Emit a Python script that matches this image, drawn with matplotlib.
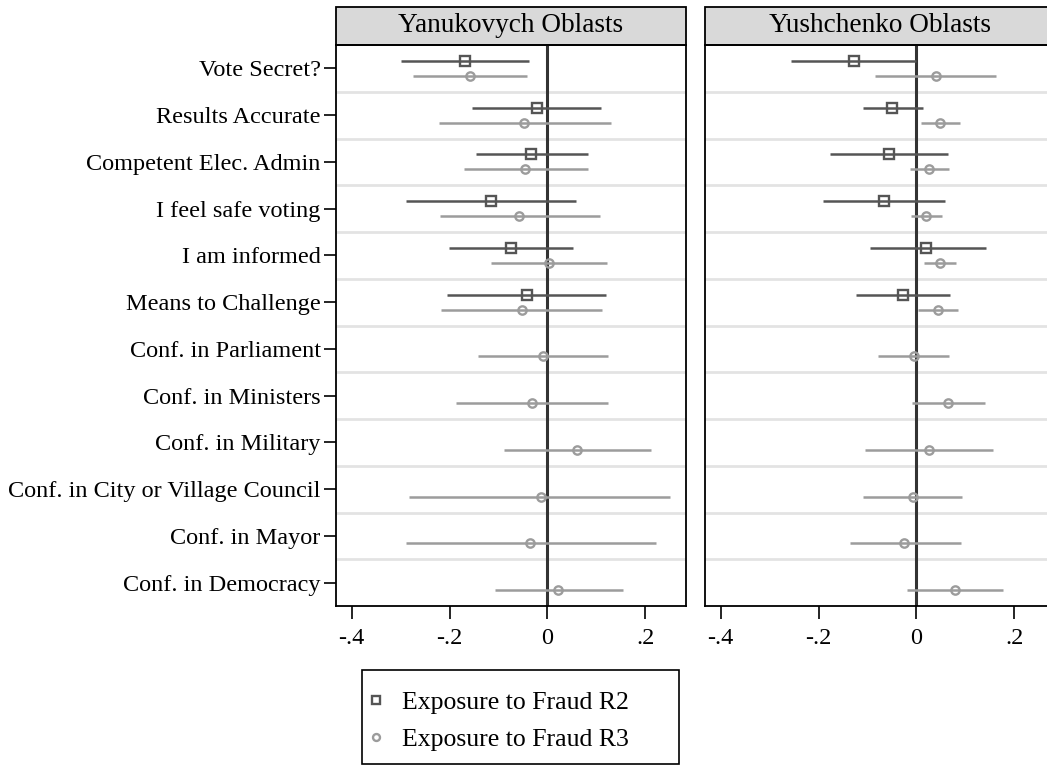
import numpy as np
import matplotlib
matplotlib.use("Agg")
import matplotlib.pyplot as plt
from matplotlib.patches import Rectangle
from matplotlib.lines import Line2D

plt.rcParams['font.family'] = ['Liberation Serif', 'DejaVu Serif']

labels = ["Vote Secret?", "Results Accurate", "Competent Elec. Admin",
          "I feel safe voting", "I am informed", "Means to Challenge",
          "Conf. in Parliament", "Conf. in Ministers", "Conf. in Military",
          "Conf. in City or Village Council", "Conf. in Mayor", "Conf. in Democracy"]
panels = ["Yanukovych Oblasts", "Yushchenko Oblasts"]
nan = np.nan

# Yanukovych oblasts: exposure to fraud R2 (only first 6 outcomes)
yan_r2_est = [-0.169, -0.022, -0.033, -0.116, -0.075, -0.042, nan, nan, nan, nan, nan, nan]
yan_r2_lo = [-0.299, -0.155, -0.146, -0.290, -0.201, -0.205, nan, nan, nan, nan, nan, nan]
yan_r2_hi = [-0.038, 0.110, 0.082, 0.059, 0.052, 0.120, nan, nan, nan, nan, nan, nan]
# Yanukovych oblasts: exposure to fraud R3
yan_r3_est = [-0.159, -0.047, -0.046, -0.059, 0.003, -0.053, -0.010, -0.031, 0.060, -0.014, -0.035, 0.022]
yan_r3_lo = [-0.275, -0.222, -0.171, -0.220, -0.116, -0.218, -0.142, -0.186, -0.089, -0.282, -0.288, -0.108]
yan_r3_hi = [-0.042, 0.130, 0.083, 0.107, 0.122, 0.112, 0.124, 0.124, 0.212, 0.250, 0.221, 0.154]

# Yushchenko oblasts: exposure to fraud R2
yus_r2_est = [-0.128, -0.049, -0.057, -0.067, 0.019, -0.028, nan, nan, nan, nan, nan, nan]
yus_r2_lo = [-0.256, -0.110, -0.176, -0.190, -0.095, -0.124, nan, nan, nan, nan, nan, nan]
yus_r2_hi = [0.000, 0.013, 0.065, 0.059, 0.143, 0.069, nan, nan, nan, nan, nan, nan]
# Yushchenko oblasts: exposure to fraud R3
yus_r3_est = [0.039, 0.049, 0.025, 0.020, 0.048, 0.044, -0.006, 0.065, 0.025, -0.008, -0.025, 0.079]
yus_r3_lo = [-0.085, 0.009, -0.014, -0.012, 0.016, 0.003, -0.078, -0.010, -0.105, -0.109, -0.136, -0.019]
yus_r3_hi = [0.163, 0.089, 0.066, 0.053, 0.080, 0.085, 0.066, 0.139, 0.156, 0.094, 0.090, 0.176]

xticks = [-0.4, -0.2, 0, 0.2]
xticklabels = ["-.4", "-.2", "0", ".2"]

c_r2 = "#555555"
c_r3 = "#9c9c9c"

fig = plt.figure(figsize=(10.47, 7.65), dpi=100)
ax1 = fig.add_axes([336 / 1047, 1 - 606 / 765, 350 / 1047, 561 / 765])
ax2 = fig.add_axes([705 / 1047, 1 - 606 / 765, 350 / 1047, 561 / 765])

y = np.arange(1, len(labels) + 1)
data = [(yan_r2_est, yan_r2_lo, yan_r2_hi, yan_r3_est, yan_r3_lo, yan_r3_hi),
        (yus_r2_est, yus_r2_lo, yus_r2_hi, yus_r3_est, yus_r3_lo, yus_r3_hi)]

for ax, title, d in zip([ax1, ax2], panels, data):
    r2e, r2l, r2h, r3e, r3l, r3h = [np.array(v) for v in d]
    # row separators
    for s in y[:-1] + 0.5:
        ax.axhline(s, color="#e3e3e3", lw=2, zorder=1)
    ax.axvline(0, color="#333333", lw=2.2, zorder=2)
    ax.hlines(y - 0.16, r2l, r2h, color=c_r2, lw=1.8, zorder=3)
    ax.plot(r2e, y - 0.16, ls="none", marker="s", ms=6.5, mfc="none",
            mec=c_r2, mew=1.7, zorder=4)
    ax.hlines(y + 0.16, r3l, r3h, color=c_r3, lw=1.8, zorder=3)
    ax.plot(r3e, y + 0.16, ls="none", marker="o", ms=6, mfc="none",
            mec=c_r3, mew=1.7, zorder=4)

    ax.set_xlim(-0.432, 0.283)
    ax.set_ylim(12.5, 0.5)
    ax.set_xticks(xticks)
    ax.set_xticklabels(xticklabels)
    ax.set_yticks(y)
    ax.tick_params(axis="x", direction="out", length=9, width=1.2,
                   labelsize=17.5, pad=7)
    ax.tick_params(axis="y", direction="out", length=9, width=1.2,
                   labelsize=17.5, pad=2)
    for sp in ax.spines.values():
        sp.set_linewidth(1.3)
    # header strip
    hdr = Rectangle((0, 1), 1, 38 / 561, transform=ax.transAxes,
                    facecolor="#d9d9d9", edgecolor="black", lw=1.3,
                    clip_on=False)
    ax.add_patch(hdr)
    ax.text(0.5, 1 + 19 / 561, title, transform=ax.transAxes,
            ha="center", va="center", fontsize=19.6)

ax1.set_yticklabels(labels)
ax2.set_yticklabels([])
ax2.tick_params(axis="y", length=0)

# legend box drawn separately so its size matches
fig.add_artist(Rectangle((362 / 1047, 1 - 764 / 765), 317 / 1047, 94 / 765,
                         transform=fig.transFigure, facecolor="white",
                         edgecolor="black", lw=1.2))
handles = [Line2D([], [], ls="none", marker="s", ms=5.5, mfc="none", mec=c_r2, mew=1.7),
           Line2D([], [], ls="none", marker="o", ms=5, mfc="none", mec=c_r3, mew=1.7)]
leg = fig.legend(handles, ["Exposure to Fraud R2", "Exposure to Fraud R3"],
                 loc="upper left", bbox_to_anchor=(366 / 1047, 1 - 691 / 765),
                 borderaxespad=0, borderpad=0, fontsize=18.5, frameon=False,
                 handlelength=0.8, handletextpad=0.6, labelspacing=0.53)

fig.savefig("out.png", dpi=100)
